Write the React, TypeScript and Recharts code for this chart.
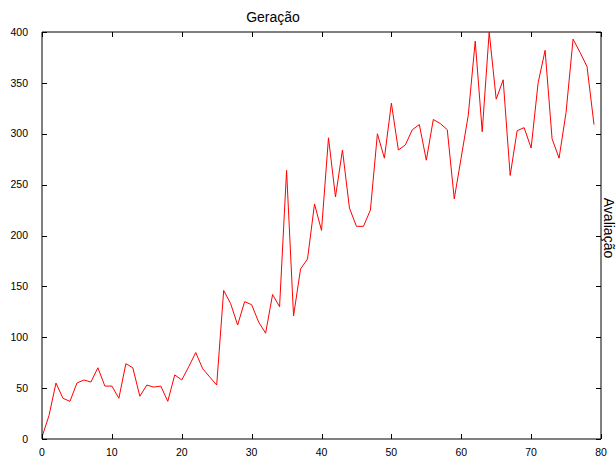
import { Line, LineChart, ReferenceArea, XAxis, YAxis } from "recharts";

// best fitness per generation
const avaliacao = [
  2, 23, 55, 40, 37, 55, 58, 56, 70, 52,
  52, 40, 74, 70, 42, 53, 51, 52, 37, 63,
  58, 71, 85, 69, 61, 53, 146, 133, 112, 135,
  132, 115, 104, 142, 130, 264, 121, 167, 177, 231,
  205, 296, 238, 284, 227, 209, 209, 225, 300, 276,
  330, 284, 289, 304, 309, 274, 314, 310, 304, 236,
  277, 318, 391, 302, 400, 334, 353, 259, 303, 306,
  286, 350, 382, 295, 276, 321, 393, 380, 366, 309,
];

const xTicks = [0, 10, 20, 30, 40, 50, 60, 70, 80];
const yTicks = [0, 50, 100, 150, 200, 250, 300, 350, 400];

const data = avaliacao.map((v, i) => ({ geracao: i, avaliacao: v }));

const X_MIN = 0;
const X_MAX = 80;
const Y_MIN = 0;
const Y_MAX = 400;

const W = 616;
const H = 458;
const Y_AXIS_W = 42;
const X_AXIS_H = 19;
const TOP = 32;
const RIGHT = 15;
const TICK = 5;

// plot box, same numbers the chart margins use
const left = Y_AXIS_W;
const right = W - RIGHT;
const top = TOP;
const bottom = H - X_AXIS_H;

const px = (t: number) =>
  Math.round(left + ((t - X_MIN) / (X_MAX - X_MIN)) * (right - left));
const py = (t: number) =>
  Math.round(bottom - ((t - Y_MIN) / (Y_MAX - Y_MIN)) * (bottom - top));

const tickStyle = { fill: "#000", fontSize: 10.5 };
const tickDiv = { position: "absolute" as const, background: "#000" };

export default function App() {
  return (
    <div
      style={{
        position: "absolute",
        left: 0,
        top: 0,
        width: W,
        height: H,
        fontFamily: "'Liberation Sans', Arial, sans-serif",
        background: "#fff",
      }}
    >
      <LineChart
        width={W}
        height={H}
        data={data}
        margin={{ top: TOP, right: RIGHT, bottom: 0, left: 0 }}
      >
        <XAxis
          dataKey="geracao"
          type="number"
          domain={[X_MIN, X_MAX]}
          ticks={xTicks}
          height={X_AXIS_H}
          tickLine={false}
          axisLine={false}
          tickMargin={4}
          tick={tickStyle}
          interval={0}
        />
        <YAxis
          type="number"
          domain={[Y_MIN, Y_MAX]}
          ticks={yTicks}
          width={Y_AXIS_W}
          tickLine={false}
          axisLine={false}
          tickMargin={8}
          tick={tickStyle}
          interval={0}
        />
        <ReferenceArea
          x1={X_MIN}
          x2={X_MAX}
          y1={Y_MIN}
          y2={Y_MAX}
          fill="none"
          stroke="#000"
          strokeWidth={1}
          ifOverflow="visible"
        />
        <Line
          type="linear"
          dataKey="avaliacao"
          stroke="#ff0000"
          strokeWidth={1}
          dot={false}
          isAnimationActive={false}
        />
      </LineChart>

      {/* gnuplot-style inward ticks on all four sides */}
      {xTicks.map((t) => (
        <div
          key={`xb${t}`}
          style={{ ...tickDiv, left: px(t), top: bottom - TICK, width: 1, height: TICK }}
        />
      ))}
      {xTicks.map((t) => (
        <div
          key={`xt${t}`}
          style={{ ...tickDiv, left: px(t), top: top, width: 1, height: TICK }}
        />
      ))}
      {yTicks.map((t) => (
        <div
          key={`yl${t}`}
          style={{ ...tickDiv, left: left, top: py(t), width: TICK, height: 1 }}
        />
      ))}
      {yTicks.map((t) => (
        <div
          key={`yr${t}`}
          style={{ ...tickDiv, left: right - TICK, top: py(t), width: TICK, height: 1 }}
        />
      ))}

      <div
        style={{
          position: "absolute",
          left: 609,
          top: 228,
          transform: "translate(-50%, -50%) rotate(90deg)",
          fontSize: 14,
          color: "#000",
          whiteSpace: "nowrap",
          lineHeight: "16px",
        }}
      >
        Avaliação
      </div>
      <div
        style={{
          position: "absolute",
          left: 273,
          top: 9,
          transform: "translateX(-50%)",
          fontSize: 14,
          color: "#000",
          whiteSpace: "nowrap",
          lineHeight: "16px",
        }}
      >
        Geração
      </div>
    </div>
  );
}
